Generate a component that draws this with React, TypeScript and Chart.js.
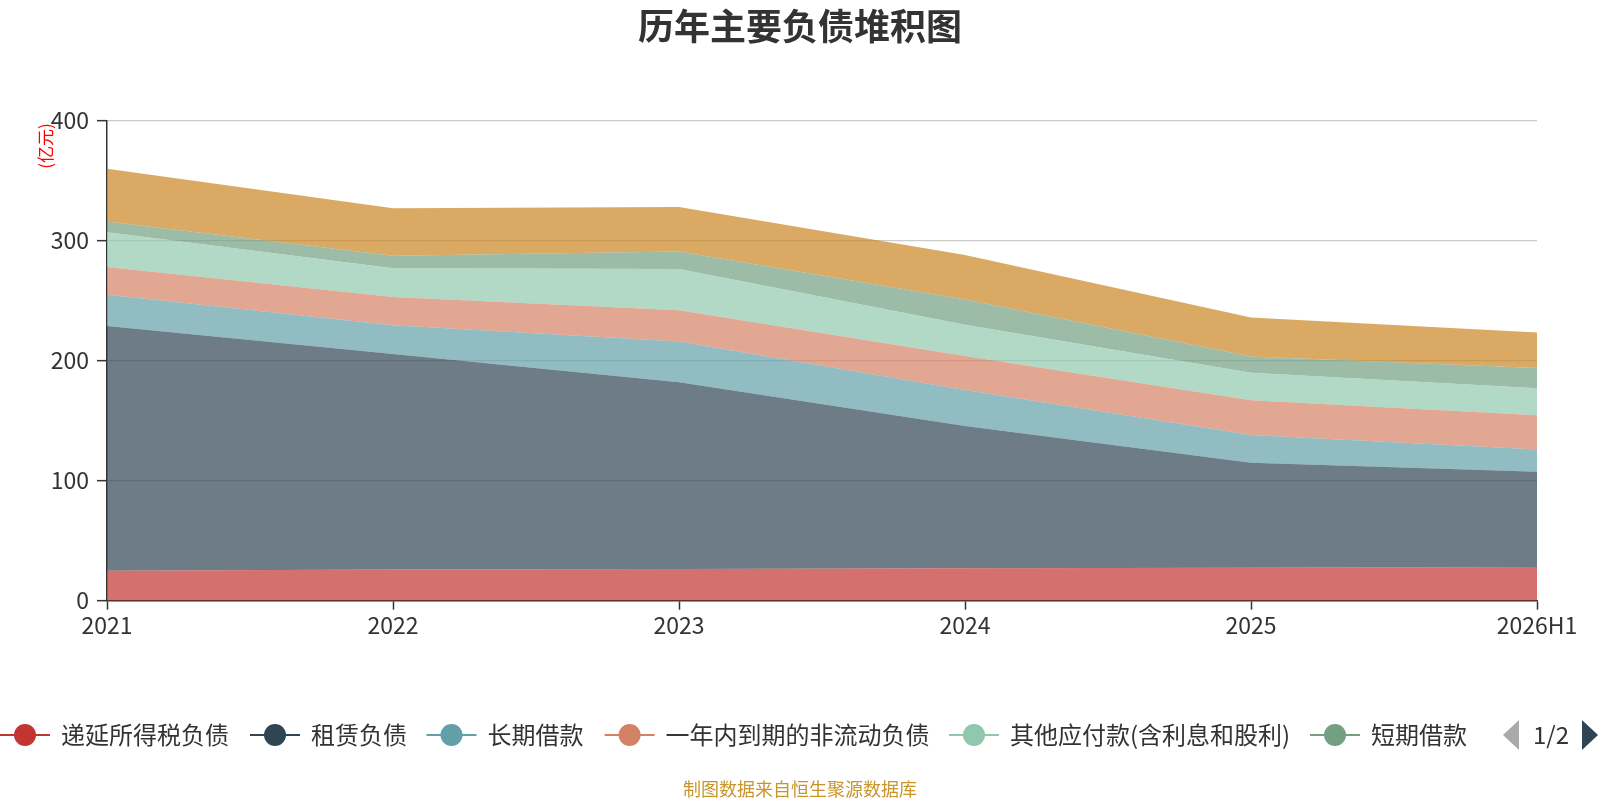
import React, { useEffect, useRef } from 'react';
import { Chart, registerables } from 'chart.js';

Chart.register(...registerables);

const titleText = '历年主要负债堆积图';
const unitText = '(亿元)';
const footerText = '制图数据来自恒生聚源数据库';
const pagerText = '1/2';

const categories = ['2021', '2022', '2023', '2024', '2025', '2026H1'];
const yTickValues = [0, 100, 200, 300, 400];

const seriesNames = [
  '递延所得税负债',
  '租赁负债',
  '长期借款',
  '一年内到期的非流动负债',
  '其他应付款(含利息和股利)',
  '短期借款',
  '应付账款',
];

const deferredTax = [25, 26, 26.5, 27, 27.5, 28];
const leaseLiabilities = [204, 179.5, 155.5, 118.5, 87.5, 79.5];
const longTermLoans = [26, 24, 34, 30, 23, 18.5];
const currentPortionNonCurrent = [23, 23.5, 26, 28.5, 29, 28.5];
const otherPayables = [29, 24, 34.5, 26, 23, 22.5];
const shortTermLoans = [9, 10.5, 14.5, 21, 13.5, 17];
const accountsPayable = [44, 39.5, 37, 37, 32.5, 29.5];

const seriesValues = [
  deferredTax,
  leaseLiabilities,
  longTermLoans,
  currentPortionNonCurrent,
  otherPayables,
  shortTermLoans,
  accountsPayable,
];

const palette = ['#c23531', '#2f4554', '#61a0a8', '#d48265', '#91c7ae', '#749f83', '#ca8622'];

// legend layout (first page shows 6 items)
const legendStartX = [0, 250, 426.5, 604.6, 949, 1310];
const legendY = 735;

const FONT = '"Noto Sans CJK SC", "Noto Sans", sans-serif';

function hexToRgba(hex: string, a: number) {
  const r = parseInt(hex.slice(1, 3), 16);
  const g = parseInt(hex.slice(3, 5), 16);
  const b = parseInt(hex.slice(5, 7), 16);
  return `rgba(${r},${g},${b},${a})`;
}

const overlayPlugin = {
  id: 'overlay',
  afterDraw(chart: any) {
    const ctx: CanvasRenderingContext2D = chart.ctx;
    ctx.save();
    // title
    ctx.fillStyle = '#333333';
    ctx.textAlign = 'center';
    ctx.textBaseline = 'middle';
    ctx.font = `bold 36px ${FONT}`;
    ctx.fillText(titleText, 800, 26);

    // unit label rotated
    ctx.save();
    ctx.translate(46, 146);
    ctx.rotate(-Math.PI / 2);
    ctx.font = `17px ${FONT}`;
    ctx.fillStyle = '#ff0000';
    ctx.fillText(unitText, 0, 0);
    ctx.restore();

    // legend
    ctx.textAlign = 'left';
    ctx.font = `24px ${FONT}`;
    legendStartX.forEach((x, i) => {
      const color = palette[i];
      ctx.strokeStyle = color;
      ctx.lineWidth = 2;
      ctx.beginPath();
      ctx.moveTo(x, legendY);
      ctx.lineTo(x + 50, legendY);
      ctx.stroke();
      ctx.fillStyle = color;
      ctx.beginPath();
      ctx.arc(x + 25, legendY, 11, 0, Math.PI * 2);
      ctx.fill();
      ctx.fillStyle = '#333333';
      ctx.fillText(seriesNames[i], x + 61, legendY);
    });

    // pager
    ctx.fillStyle = '#aaaaaa';
    ctx.beginPath();
    ctx.moveTo(1503, legendY);
    ctx.lineTo(1519, legendY - 15);
    ctx.lineTo(1519, legendY + 15);
    ctx.closePath();
    ctx.fill();
    ctx.fillStyle = '#333333';
    ctx.textAlign = 'center';
    ctx.fillText(pagerText, 1551, legendY);
    ctx.fillStyle = '#2f4554';
    ctx.beginPath();
    ctx.moveTo(1598, legendY);
    ctx.lineTo(1582, legendY - 15);
    ctx.lineTo(1582, legendY + 15);
    ctx.closePath();
    ctx.fill();

    // footer
    ctx.font = `18px ${FONT}`;
    ctx.fillStyle = '#c9952b';
    ctx.textAlign = 'center';
    ctx.fillText(footerText, 800, 789);
    ctx.restore();
  },
};

export default function App() {
  const canvasRef = useRef<HTMLCanvasElement | null>(null);

  useEffect(() => {
    document.body.style.margin = '0';
    const canvas = canvasRef.current;
    if (!canvas) return;
    Chart.defaults.font.family = FONT;

    const datasets = seriesValues.map((vals, i) => ({
      label: seriesNames[i],
      data: vals,
      backgroundColor: hexToRgba(palette[i], 0.7),
      borderColor: hexToRgba(palette[i], 0),
      borderWidth: 0,
      pointRadius: 0,
      pointHoverRadius: 0,
      tension: 0,
      fill: i === 0 ? 'origin' : '-1',
    }));

    const chart = new Chart(canvas, {
      type: 'line',
      data: { labels: categories, datasets },
      options: {
        animation: false,
        responsive: false,
        devicePixelRatio: 1,
        layout: { padding: { top: 120.7, right: 63, left: 0, bottom: 0 } },
        plugins: {
          legend: { display: false },
          title: { display: false },
          tooltip: { enabled: false },
        },
        scales: {
          x: {
            offset: false,
            ticks: {
              color: '#333333',
              font: { size: 23 },
              padding: 2,
              maxRotation: 0,
              autoSkip: false,
            },
            grid: {
              drawOnChartArea: false,
              tickColor: '#333333',
              tickLength: 9,
              tickWidth: 1.5,
            },
            border: { color: '#333333', width: 1.5 },
            afterFit: (s: any) => {
              s.height = 199.3;
            },
          },
          y: {
            stacked: true,
            min: 0,
            max: 400,
            afterBuildTicks: (s: any) => {
              s.ticks = yTickValues.map((v) => ({ value: v }));
            },
            ticks: {
              color: '#333333',
              font: { size: 23 },
              padding: 8,
            },
            grid: {
              color: (c: any) => (c.tick && c.tick.value === 0 ? 'rgba(0,0,0,0)' : '#cccccc'),
              lineWidth: 1.3,
              tickColor: '#333333',
              tickLength: 10,
              tickWidth: 1.5,
            },
            border: { color: '#333333', width: 1.5 },
            afterFit: (s: any) => {
              s.width = 107;
            },
          },
        },
      },
      plugins: [overlayPlugin],
    });

    return () => {
      chart.destroy();
    };
  }, []);

  return (
    <div style={{ width: 1600, height: 800, position: 'relative', background: '#ffffff' }}>
      <canvas ref={canvasRef} width={1600} height={800} style={{ width: 1600, height: 800, display: 'block' }} />
    </div>
  );
}
